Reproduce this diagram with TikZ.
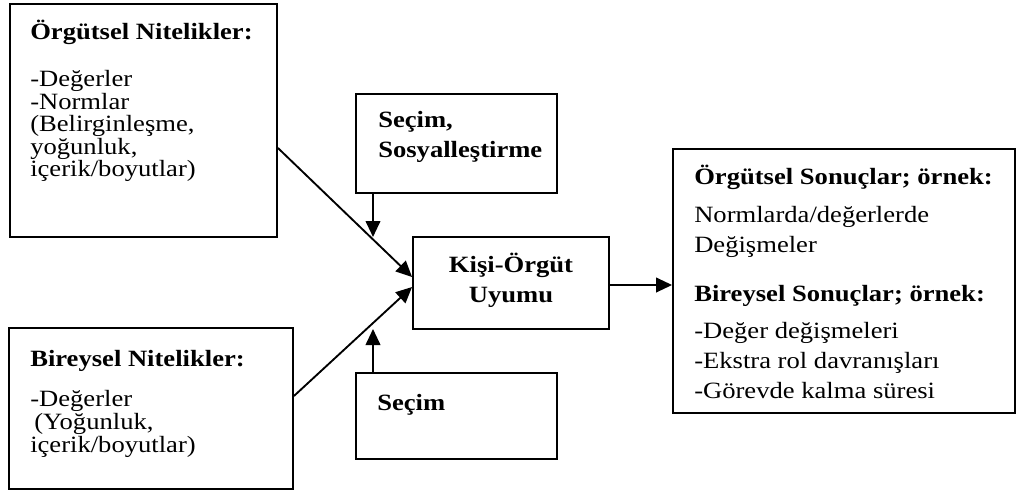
\documentclass[tikz,border=0pt]{standalone}
\usepackage{fontspec}
\setmainfont{Liberation Serif}[FakeStretch=1.14]
\usetikzlibrary{arrows.meta,fit}

\tikzset{
  box/.style={draw, line width=1.4pt, inner sep=0pt, fill=none},
  txt/.style={anchor=base west, inner sep=0pt, font=\fontsize{17.5}{20}\selectfont},
  ttl/.style={txt, font=\fontsize{17.5}{20}\selectfont\bfseries},
  ctr/.style={anchor=base, inner sep=0pt, font=\fontsize{17.5}{20}\selectfont\bfseries},
  arr/.style={line width=1.4pt, -{Triangle[length=12pt,width=11pt]}}
}

\begin{document}
\begin{tikzpicture}[x=0.75pt,y=-0.75pt]
  \useasboundingbox (0,0) rectangle (1020,493);

  % boxes
  \node[box, fit={(10,4) (277,237)}]    (A) {};
  \node[box, fit={(9,328) (293,489)}]   (B) {};
  \node[box, fit={(356,94) (557,193)}]  (C) {};
  \node[box, fit={(413,237) (609,329)}] (D) {};
  \node[box, fit={(356,373) (557,459)}] (E) {};
  \node[box, fit={(673,149) (1015,413)}] (F) {};

  % organisational attributes
  \node[ttl] (A0) at (30,39.5)  {Örgütsel Nitelikler:};
  \node[txt] (A1) at (30,86.5)  {-Değerler};
  \node[txt] (A2) at (30,109)   {-Normlar};
  \node[txt] (A3) at (30,131.5) {(Belirginleşme,};
  \node[txt] (A4) at (30,154)   {yoğunluk,};
  \node[txt] (A5) at (30,176.5) {içerik/boyutlar)};

  % individual attributes
  \node[ttl] (B0) at (30,366) {Bireysel Nitelikler:};
  \node[txt] (B1) at (30,406) {-Değerler};
  \node[txt] (B2) at (34,429) {(Yoğunluk,};
  \node[txt] (B3) at (30,452) {içerik/boyutlar)};

  % selection / socialisation
  \node[ttl] (C0) at (378,127.5) {Seçim,};
  \node[ttl] (C1) at (378,157.5) {Sosyalleştirme};

  % person-organisation fit
  \node[ctr] (D0) at (511,272) {Kişi-Örgüt};
  \node[ctr] (D1) at (511,302) {Uyumu};

  % selection
  \node[ttl] (E0) at (377,410) {Seçim};

  % outcomes
  \node[ttl] (F0) at (694,184) {Örgütsel Sonuçlar; örnek:};
  \node[txt] (F1) at (694,222) {Normlarda/değerlerde};
  \node[txt] (F2) at (694,252) {Değişmeler};
  \node[ttl] (F3) at (694,301) {Bireysel Sonuçlar; örnek:};
  \node[txt] (F4) at (694,338) {-Değer değişmeleri};
  \node[txt] (F5) at (694,368) {-Ekstra rol davranışları};
  \node[txt] (F6) at (694,398) {-Görevde kalma süresi};

  % free arrow ends
  \coordinate (cEnd) at (373,237);
  \coordinate (eEnd) at (373,329);

  % connectors
  \draw[arr] (A.east |- 0,148) -- (D.west |- 0,277);
  \draw[arr] (B.east |- 0,396) -- (D.west |- 0,287);
  \draw[arr] (C.south -| cEnd) -- (cEnd);
  \draw[arr] (E.north -| eEnd) -- (eEnd);
  \draw[arr] (D.east |- 0,285) -- (F.west |- 0,285);
\end{tikzpicture}
\end{document}
